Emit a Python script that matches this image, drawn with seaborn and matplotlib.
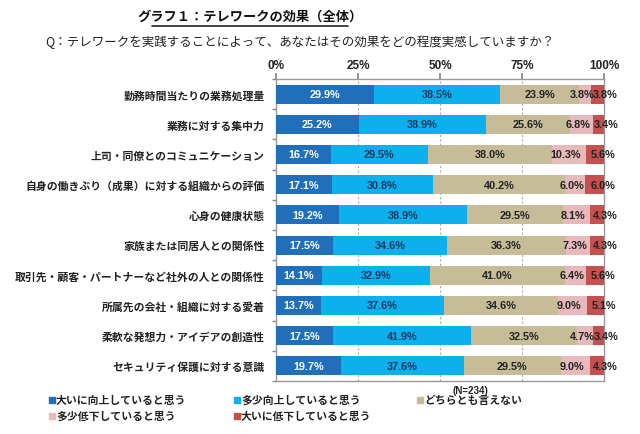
import matplotlib
matplotlib.use("Agg")
import matplotlib.pyplot as plt
import seaborn as sns
import pandas as pd
import numpy as np
from matplotlib.lines import Line2D

sns.set_theme(style="white")
plt.rcParams['font.family'] = ['Noto Sans CJK JP', 'DejaVu Sans']

categories = [
    "勤務時間当たりの業務処理量",
    "業務に対する集中力",
    "上司・同僚とのコミュニケーション",
    "自身の働きぶり（成果）に対する組織からの評価",
    "心身の健康状態",
    "家族または同居人との関係性",
    "取引先・顧客・パートナーなど社外の人との関係性",
    "所属先の会社・組織に対する愛着",
    "柔軟な発想力・アイデアの創造性",
    "セキュリティ保護に対する意識",
]
series_names = ["大いに向上していると思う", "多少向上していると思う", "どちらとも言えない",
                "多少低下していると思う", "大いに低下していると思う"]
great_up = [29.9, 25.2, 16.7, 17.1, 19.2, 17.5, 14.1, 13.7, 17.5, 19.7]
some_up = [38.5, 38.9, 29.5, 30.8, 38.9, 34.6, 32.9, 37.6, 41.9, 37.6]
neutral = [23.9, 25.6, 38.0, 40.2, 29.5, 36.3, 41.0, 34.6, 32.5, 29.5]
some_down = [3.8, 6.8, 10.3, 6.0, 8.1, 7.3, 6.4, 9.0, 4.7, 9.0]
great_down = [3.8, 3.4, 5.6, 6.0, 4.3, 4.3, 5.6, 5.1, 3.4, 4.3]
xticks = [0, 25, 50, 75, 100]
xtick_labels = ["0%", "25%", "50%", "75%", "100%"]

colors = ["#1f6fba", "#0cb0ec", "#c6bd98", "#e8b9ba", "#c4504f"]
text_colors = ["white", "#1c3560", "#222222", "#222222", "#222222"]
label_shift = [0, 0, 0, -1.0, 2.5]

values = [great_up, some_up, neutral, some_down, great_down]
df = pd.DataFrame({"cat": categories})
for name, v in zip(series_names, values):
    df[name] = v
cum = df[series_names].cumsum(axis=1)

fig = plt.figure(figsize=(6.4, 4.35), dpi=100)
ax = fig.add_axes([276/640, 1-382/435, (604-276)/640, (382-80)/435])

for i in range(len(series_names) - 1, -1, -1):
    sns.barplot(x=cum[series_names[i]], y=df["cat"], color=colors[i], width=0.63,
                orient="h", ax=ax, saturation=1, linewidth=0, zorder=3)

for i, name in enumerate(series_names):
    for j in range(len(categories)):
        v = df[name].iloc[j]
        c = cum[name].iloc[j] - v / 2 + label_shift[i]
        ax.text(c, j, f"{v:.1f}%", ha="center", va="center", fontsize=7.8,
                color=text_colors[i], fontweight="bold", zorder=5, family="Liberation Sans")

ax.set_xlim(0, 100)
ax.set_ylim(9.5, -0.5)
ax.set_xticks(xticks)
ax.set_xticklabels(xtick_labels, fontsize=8.5, fontweight="bold", family="Liberation Sans")
ax.xaxis.tick_top()
ax.tick_params(axis="x", top=True, length=4, color="#888888", pad=1.5, colors="#222222")
ax.set_xlabel("")
ax.set_ylabel("")
ax.set_yticks(range(len(categories)))
ax.set_yticklabels(categories, fontsize=7.8, fontweight="bold", color="#222222")
ax.tick_params(axis="y", length=0, pad=8)
ax.set_yticks(np.arange(-0.5, 10, 1), minor=True)
ax.tick_params(axis="y", which="minor", left=True, length=3, color="#888888")
ax.tick_params(axis="x", which="major", color="#888888")
for x in [25, 50, 75]:
    ax.axvline(x, color="#aaaaaa", lw=0.8, ls=(0, (2, 2)), zorder=1)
for s in ax.spines.values():
    s.set_color("#999999")
    s.set_linewidth(1.0)

# title
fig.text(250/640, 1-17/435, "グラフ１：テレワークの効果（全体）", ha="center", va="center",
         fontsize=9.5, fontweight="bold", color="#111111")
fig.add_artist(Line2D([152/640, 348/640], [1-27/435, 1-27/435], color="#222222", lw=1.2))
fig.text(45/640, 1-42/435, "Q：テレワークを実践することによって、あなたはその効果をどの程度実感していますか？",
         ha="left", va="center", fontsize=9, color="#222222")

# legend
leg_pos = [(52, 401), (237, 401), (420, 401), (52, 417), (237, 417)]
for (lx, ly), name, col in zip(leg_pos, series_names, colors):
    fig.add_artist(plt.Rectangle(((lx - 3) / 640, 1 - (ly + 3) / 435), 6/640, 6/435,
                                 color=col, transform=fig.transFigure))
    fig.text((lx + 4) / 640, 1 - ly / 435, name, ha="left", va="center", fontsize=7.8,
             fontweight="bold", color="#222222")
fig.text(470/640, 1-391/435, "(N=234)", ha="center", va="center", fontsize=7,
         fontweight="bold", color="#222222", family="Liberation Sans")

fig.savefig("out.png", dpi=100)
